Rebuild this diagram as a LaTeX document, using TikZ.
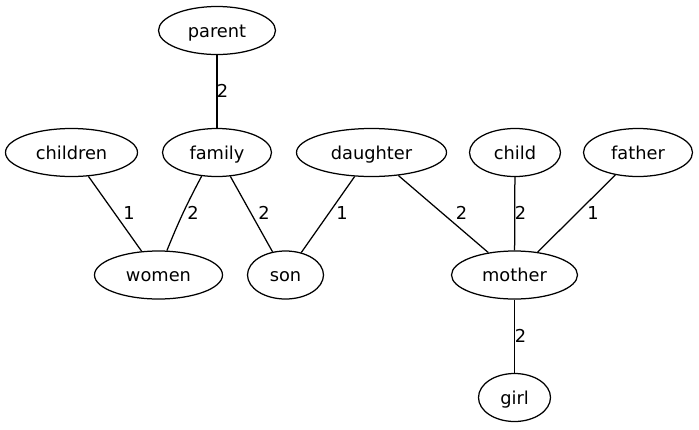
\documentclass[tikz,border=0pt]{standalone}
\usepackage{fontspec}
\setmainfont{DejaVu Sans}
\usetikzlibrary{shapes.geometric}
\begin{document}
\begin{tikzpicture}[x=1pt,y=-1pt,
    every node/.style={font=\fontsize{17.8}{20}\selectfont},
    word/.style={draw,ellipse,line width=1.25pt,inner sep=0pt,minimum height=48pt,
      text height=16pt,text depth=2.5pt},
    wt/.style={anchor=base,inner sep=0pt},
    link/.style={line width=1.25pt}]
  \useasboundingbox (0,0) rectangle (699,429);
  % words
  \node[word,minimum width=117pt] (parent) at (217,30.5) {parent};
  \node[word,minimum width=132pt] (children) at (71.5,152.5) {children};
  \node[word,minimum width=109pt] (family) at (217,152.5) {family};
  \node[word,minimum width=150pt] (daughter) at (371.5,152.5) {daughter};
  \node[word,minimum width=91pt] (child) at (515,152.5) {child};
  \node[word,minimum width=109pt] (father) at (638,152.5) {father};
  \node[word,minimum width=128pt] (women) at (158.5,275) {women};
  \node[word,minimum width=76pt] (son) at (285.5,275) {son};
  \node[word,minimum width=126pt] (mother) at (514.5,275) {mother};
  \node[word,minimum width=72pt] (girl) at (514.5,397.5) {girl};
  % links
  \draw[link] (parent) -- (family);
  \draw[link] (children) -- (women);
  \draw[link] (family.237) to[bend right=3] (women.71);
  \draw[link] (family) -- (son);
  \draw[link] (daughter) -- (son);
  \draw[link] (daughter) -- (mother);
  \draw[link] (child) -- (mother);
  \draw[link] (father) -- (mother);
  \draw[link] (mother) -- (girl);
  % weights
  \node[wt] (w1) at (222.5,97) {2};
  \node[wt] (w2) at (129,219.5) {1};
  \node[wt] (w3) at (193,219.5) {2};
  \node[wt] (w4) at (264,219.5) {2};
  \node[wt] (w5) at (342,219.5) {1};
  \node[wt] (w6) at (461.5,219.5) {2};
  \node[wt] (w7) at (520.5,219.5) {2};
  \node[wt] (w8) at (593,219.5) {1};
  \node[wt] (w9) at (520.5,342.5) {2};
\end{tikzpicture}
\end{document}
